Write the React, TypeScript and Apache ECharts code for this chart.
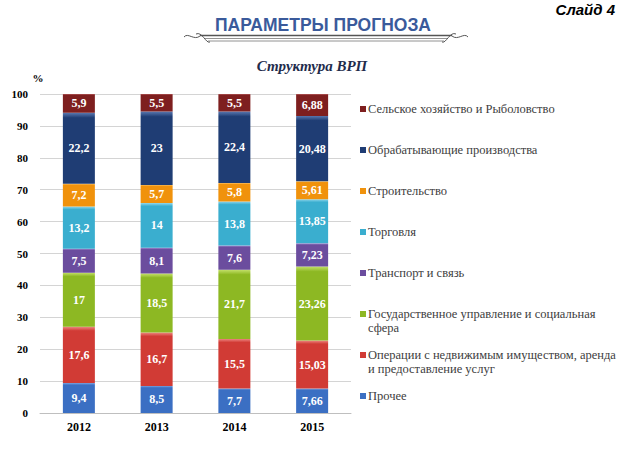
import React, { useEffect, useRef } from "react";
import * as echarts from "echarts";

const categories = ["2012", "2013", "2014", "2015"];
const seriesNames = [
  "Прочее",
  "Операции с недвижимым имуществом, аренда и предоставление услуг",
  "Государственное управление и социальная сфера",
  "Транспорт и связь",
  "Торговля",
  "Строительство",
  "Обрабатывающие производства",
  "Сельское хозяйство и Рыболовство",
];
const legendLines: Record<string, string[]> = {
  "Операции с недвижимым имуществом, аренда и предоставление услуг": [
    "Операции с недвижимым имуществом, аренда",
    "и предоставление услуг",
  ],
  "Государственное управление и социальная сфера": ["Государственное управление и социальная", "сфера"],
};
const other = [9.4, 8.5, 7.7, 7.66];
const realEstate = [17.6, 16.7, 15.5, 15.03];
const government = [17, 18.5, 21.7, 23.26];
const transport = [7.5, 8.1, 7.6, 7.23];
const trade = [13.2, 14, 13.8, 13.85];
const construction = [7.2, 5.7, 5.8, 5.61];
const manufacturing = [22.2, 23, 22.4, 20.48];
const agriculture = [5.9, 5.5, 5.5, 6.88];
const seriesValues = [other, realEstate, government, transport, trade, construction, manufacturing, agriculture];
const colors = ["#3b6fc3", "#d13b35", "#8db823", "#6b4d9e", "#3aaecf", "#f0920c", "#1f3d74", "#7e1f1f"];
const lightColors = ["#7ea3e0", "#ec8580", "#c4e06a", "#a48bd0", "#8fd6ec", "#fbc56a", "#5a78b0", "#b45a5a"];
const yTicks = [0, 10, 20, 30, 40, 50, 60, 70, 80, 90, 100];

const serif = "Liberation Serif";
const sans = "Liberation Sans";

export default function App() {
  const ref = useRef<HTMLDivElement>(null);
  useEffect(() => {
    if (!ref.current) return;
    const chart = echarts.init(ref.current, null, { renderer: "svg" });
    const series = seriesNames.map((name, i) => ({
      name,
      type: "bar",
      stack: "total",
      barWidth: 32,
      data: seriesValues[i],
      itemStyle: {
        color: new echarts.graphic.LinearGradient(0, 0, 0, 1, [
          { offset: 0, color: lightColors[i] },
          { offset: 0.07, color: colors[i] },
          { offset: 1, color: colors[i] },
        ]),
      },
      label: {
        show: true,
        position: "inside",
        color: "#ffffff",
        fontFamily: serif,
        fontWeight: "bold",
        fontSize: 12,
        formatter: (p: any) => String(p.value).replace(".", ","),
      },
    }));
    const legendText = { fontFamily: serif, fontSize: 12.5, color: "#404040", lineHeight: 14 };
    chart.setOption({
      animation: false,
      backgroundColor: "#ffffff",
      color: colors,
      title: [
        {
          text: "ПАРАМЕТРЫ ПРОГНОЗА",
          left: 323,
          top: 16,
          padding: 0,
          textAlign: "center",
          textStyle: { fontFamily: sans, fontWeight: "bold", fontSize: 17.5, color: "#3a5a9b" },
        },
        {
          text: "Структура ВРП",
          left: 312,
          top: 58,
          padding: 0,
          textAlign: "center",
          textStyle: { fontFamily: serif, fontWeight: "bold", fontStyle: "italic", fontSize: 15, color: "#1f2c4c" },
        },
        {
          text: "Слайд 4",
          right: 4,
          top: 2,
          padding: 0,
          textStyle: { fontFamily: sans, fontWeight: "bold", fontStyle: "italic", fontSize: 15, color: "#000000" },
        },
      ],
      graphic: [
        { type: "line", shape: { x1: 200, y1: 35.5, x2: 452, y2: 35.5 }, style: { stroke: "#555", lineWidth: 1.5 } },
        { type: "line", shape: { x1: 204, y1: 38.5, x2: 448, y2: 38.5 }, style: { stroke: "#777", lineWidth: 0.8 } },
        { type: "line", shape: { x1: 208, y1: 41, x2: 444, y2: 41 }, style: { stroke: "#777", lineWidth: 0.8 } },
        { type: "bezierCurve", shape: { x1: 184, y1: 37, x2: 200, y2: 36, cpx1: 188, cpy1: 32, cpx2: 194, cpy2: 41 }, style: { stroke: "#555", lineWidth: 1, fill: null } },
        { type: "bezierCurve", shape: { x1: 196, y1: 34, x2: 210, y2: 42, cpx1: 202, cpy1: 31, cpx2: 206, cpy2: 44 }, style: { stroke: "#555", lineWidth: 1, fill: null } },
        { type: "bezierCurve", shape: { x1: 468, y1: 37, x2: 452, y2: 36, cpx1: 464, cpy1: 32, cpx2: 458, cpy2: 41 }, style: { stroke: "#555", lineWidth: 1, fill: null } },
        { type: "bezierCurve", shape: { x1: 456, y1: 34, x2: 442, y2: 42, cpx1: 450, cpy1: 31, cpx2: 446, cpy2: 44 }, style: { stroke: "#555", lineWidth: 1, fill: null } },
      ],
      legend: {
        orient: "vertical",
        left: 355,
        top: 83,
        itemWidth: 6,
        itemHeight: 6,
        itemGap: -1,
        icon: "rect",
        data: [...seriesNames].reverse(),
        formatter: (name: string) => {
          const lines = legendLines[name] ? legendLines[name] : [name, " "];
          return "{e| }\n{a|" + lines[0] + "}\n{a|" + lines[1] + "}";
        },
        textStyle: {
          ...legendText,
          padding: [0, 0, 0, -3],
          rich: { e: { ...legendText }, a: { ...legendText } },
        },
      },
      grid: { left: 40, right: 268, top: 94, bottom: 46 },
      xAxis: {
        type: "category",
        data: categories,
        axisTick: { show: false },
        axisLine: { lineStyle: { color: "#bfbfbf" } },
        axisLabel: { fontFamily: serif, fontWeight: "bold", fontSize: 12, color: "#000", margin: 8 },
      },
      yAxis: {
        type: "value",
        min: 0,
        max: 100,
        interval: 10,
        name: "%",
        nameGap: 11,
        nameTextStyle: { fontFamily: serif, fontWeight: "bold", fontSize: 11, color: "#000", align: "center", padding: [0, 4, 0, 0] },
        axisLabel: {
          fontFamily: serif,
          fontWeight: "bold",
          fontSize: 11,
          color: "#000",
          margin: 12,
          formatter: (v: number) => (yTicks.includes(v) ? String(v) : ""),
        },
        splitLine: { lineStyle: { color: "#d4d4d4" } },
      },
      series,
    });
    return () => chart.dispose();
  }, []);
  return <div ref={ref} style={{ position: "absolute", left: 0, top: 0, width: 619, height: 459 }} />;
}
